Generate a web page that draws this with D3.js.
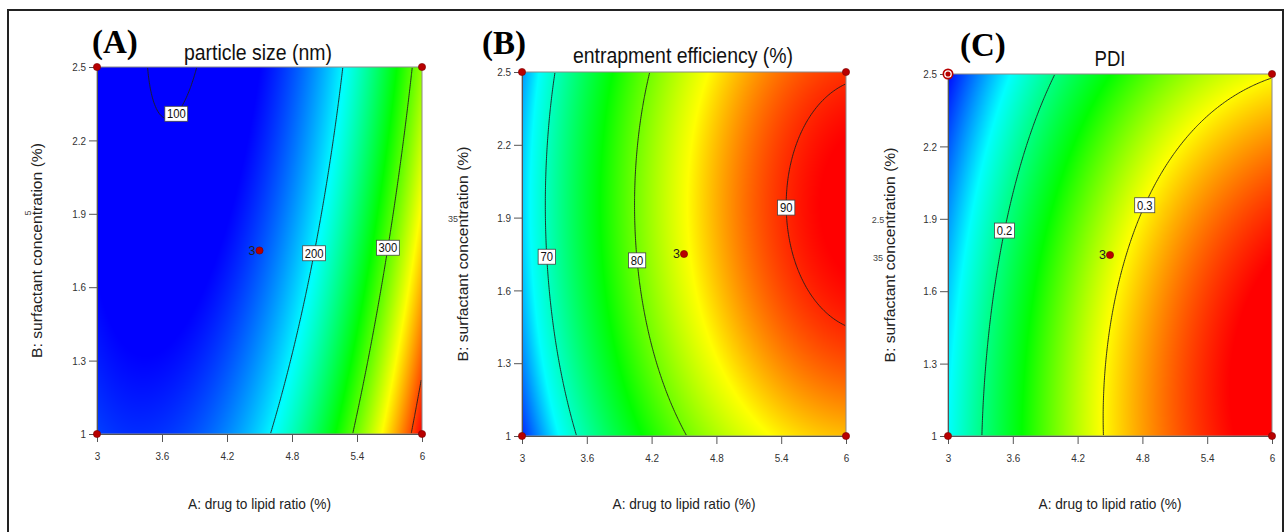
<!DOCTYPE html>
<html lang="en">
<head>
<meta charset="UTF-8">
<title>Contour plots</title>
<script src="https://cdn.jsdelivr.net/npm/d3@7"></script>
<style>
  body { margin: 0; background: #fff; }
  text { font-family: "Liberation Sans", Arial, sans-serif; }
</style>
</head>
<body>
<svg id="chart" width="1284" height="532"></svg>
<script>
// factor ranges and ticks
const drugRatio = [3, 6];
const surfactant = [1, 2.5];
const xTicks = [3, 3.6, 4.2, 4.8, 5.4, 6];
const yTicks = [1, 1.3, 1.6, 1.9, 2.2, 2.5];

// design points (A, B) and replicate counts
const designA = [3, 3, 6, 6, 4.5];
const designB = [1, 2.5, 1, 2.5, 1.75];
const designRuns = [1, 1, 1, 1, 3];

// model terms, coded units u = (A-4.5)/1.5, v = (B-1.75)/0.75
const termNames = ["1", "A", "B", "AB", "A2", "B2", "A3", "AB2"];
const termU = [0, 1, 0, 1, 2, 0, 3, 1];
const termV = [0, 0, 1, 1, 0, 2, 0, 2];
const sizeCoef = [148.97, 118.9, -32.85, -19.4, 92.6, 8.48, 0, 0];
const eeCoef = [84.04, 12.312, 1.485, 0.297, -5.064, -2.75, -0.069, -0.55];
const pdiCoef = [0.2895, 0.1085, -0.03395, -0.0047, -0.034, -0.01915, 0, -0.0082];

// contour levels
const sizeLevels = [100, 200, 300, 400];
const eeLevels = [70, 80, 90];
const pdiLevels = [0.2, 0.3];

// value at blue, cyan, green, yellow, red
const sizeColorStops = [125, 203, 275, 347, 421];
const eeColorStops = [62.5, 68, 76.5, 84.5, 91];
const pdiColorStops = [0.105, 0.165, 0.237, 0.299, 0.365];
const rampColors = ["#0000ff", "#00ffff", "#00ff00", "#ffff00", "#ff0000"];

const panels = [
  {letter: "(A)", title: "particle size (nm)", coef: sizeCoef, levels: sizeLevels, stops: sizeColorStops,
   labels: [[100, 3.70, 2.32], [200, 4.985, 1.744], [300, 5.668, 1.76]],
   x0: 97, x1: 422, y0: 67, y1: 434, letterX: 92, letterY: 53, titleX: 258, titleY: 60, titleLen: 148,
   yTitleX: 42, marked: false,
   strays: [{t: "5", x: 31, y: 213, rot: true}]},
  {letter: "(B)", title: "entrapment efficiency (%)", coef: eeCoef, levels: eeLevels, stops: eeColorStops,
   labels: [[70, 3.231, 1.738], [80, 4.065, 1.721], [90, 5.472, 1.94]],
   x0: 522, x1: 846, y0: 72, y1: 436, letterX: 482, letterY: 54, titleX: 683, titleY: 63, titleLen: 220,
   yTitleX: 468, marked: false,
   strays: [{t: "35", x: 453, y: 222}]},
  {letter: "(C)", title: "PDI", coef: pdiCoef, levels: pdiLevels, stops: pdiColorStops,
   labels: [[0.2, 3.519, 1.854], [0.3, 4.843, 1.949]],
   x0: 948, x1: 1272, y0: 74, y1: 436, letterX: 960, letterY: 56, titleX: 1110, titleY: 66, titleLen: 31,
   yTitleX: 895, marked: true,
   strays: [{t: "2.5", x: 878, y: 223}, {t: "35", x: 878, y: 261}]}
];

const svg = d3.select("#chart");

// outer frame
svg.append("rect").attr("x", 8).attr("y", 10).attr("width", 1275).attr("height", 560)
  .attr("fill", "none").attr("stroke", "#222").attr("stroke-width", 2);

function squeeze(sel, k) {
  sel.each(function() {
    const w = this.getComputedTextLength();
    d3.select(this).attr("textLength", w * k).attr("lengthAdjust", "spacingAndGlyphs");
  });
}

const aMid = (drugRatio[0] + drugRatio[1]) / 2, aHalf = (drugRatio[1] - drugRatio[0]) / 2;
const bMid = (surfactant[0] + surfactant[1]) / 2, bHalf = (surfactant[1] - surfactant[0]) / 2;

function model(coef, a, b) {
  const u = (a - aMid) / aHalf, v = (b - bMid) / bHalf;
  let s = 0;
  for (let k = 0; k < coef.length; k++) s += coef[k] * Math.pow(u, termU[k]) * Math.pow(v, termV[k]);
  return s;
}

panels.forEach(p => {
  const g = svg.append("g");
  const x = d3.scaleLinear().domain(drugRatio).range([p.x0, p.x1]);
  const y = d3.scaleLinear().domain(surfactant).range([p.y1, p.y0]);
  const color = d3.scaleLinear().domain(p.stops).range(rampColors).clamp(true);

  // colour field
  const cw = Math.round(p.x1 - p.x0), ch = Math.round(p.y1 - p.y0);
  const canvas = document.createElement("canvas");
  canvas.width = cw; canvas.height = ch;
  const ctx = canvas.getContext("2d");
  const img = ctx.createImageData(cw, ch);
  for (let j = 0; j < ch; j++) {
    const b = y.invert(p.y0 + j + 0.5);
    for (let i = 0; i < cw; i++) {
      const a = x.invert(p.x0 + i + 0.5);
      const c = d3.rgb(color(model(p.coef, a, b)));
      const o = (j * cw + i) * 4;
      img.data[o] = c.r; img.data[o + 1] = c.g; img.data[o + 2] = c.b; img.data[o + 3] = 255;
    }
  }
  ctx.putImageData(img, 0, 0);
  g.append("image").attr("x", p.x0).attr("y", p.y0).attr("width", cw).attr("height", ch)
    .attr("preserveAspectRatio", "none").attr("href", canvas.toDataURL());

  // contour lines
  const n = 200, m = 200;
  const gA = d3.scaleLinear().domain([0, n]).range(drugRatio);
  const gB = d3.scaleLinear().domain([0, m]).range([surfactant[1], surfactant[0]]);
  const values = new Float64Array(n * m);
  for (let j = 0; j < m; j++)
    for (let i = 0; i < n; i++) values[j * n + i] = model(p.coef, gA(i + 0.5), gB(j + 0.5));
  const onEdge = q => q[0] <= 0.5 || q[0] >= n - 0.5 || q[1] <= 0.5 || q[1] >= m - 0.5;
  const toPx = q => [x(gA(q[0])), y(gB(q[1]))];
  const lines = {};
  d3.contours().size([n, m]).thresholds(p.levels)(values).forEach(mp => {
    const polys = [];
    mp.coordinates.forEach(poly => poly.forEach(ring => {
      let cur = null;
      for (let k = 1; k < ring.length; k++) {
        const a = ring[k - 1], b = ring[k];
        if (onEdge(a) && onEdge(b)) { cur = null; continue; }
        if (!cur) { cur = [toPx(a)]; polys.push(cur); }
        cur.push(toPx(b));
      }
    }));
    lines[mp.value] = polys;
    g.selectAll(null).data(polys).join("path")
      .attr("d", d3.line())
      .attr("fill", "none").attr("stroke", "#1e1e1e").attr("stroke-width", 0.9);
  });

  // plot frame
  g.append("rect").attr("x", p.x0).attr("y", p.y0).attr("width", p.x1 - p.x0).attr("height", p.y1 - p.y0)
    .attr("fill", "none").attr("stroke", "#8a8a8a").attr("stroke-width", 1);

  // axes
  const xa = g.append("g").attr("transform", `translate(0,${p.y1})`)
    .call(d3.axisBottom(x).tickValues(xTicks).tickFormat(d3.format("")).tickSize(8).tickPadding(10));
  const ya = g.append("g").attr("transform", `translate(${p.x0},0)`)
    .call(d3.axisLeft(y).tickValues(yTicks).tickFormat(d3.format("")).tickSize(8).tickPadding(3));
  [xa, ya].forEach(ax => {
    ax.select(".domain").attr("stroke", "#555");
    ax.selectAll(".tick line").attr("stroke", "#555");
    ax.selectAll(".tick text").attr("fill", "#333").style("font-size", "11.5px")
      .style("font-family", '"Liberation Sans", Arial, sans-serif');
    squeeze(ax.selectAll(".tick text"), 0.86);
  });

  // contour labels
  p.labels.forEach(([lev, la, lb]) => {
    const polys = lines[lev] || [];
    const tx = x(la), ty = y(lb);
    let best = [tx, ty], bd = Infinity;
    polys.forEach(pl => pl.forEach(q => {
      const d = (q[0] - tx) ** 2 + (q[1] - ty) ** 2;
      if (d < bd) { bd = d; best = q; }
    }));
    const lg = g.append("g").attr("transform", `translate(${best[0]},${best[1]})`);
    const t = lg.append("text").attr("text-anchor", "middle").attr("y", 4.5)
      .style("font-size", "12.5px").attr("fill", "#111").text(lev);
    squeeze(t, 0.9);
    const w = t.node().getComputedTextLength() * 0.9 + 6;
    lg.insert("rect", "text").attr("x", -w / 2).attr("y", -7.5).attr("width", w).attr("height", 15)
      .attr("fill", "#fff").attr("stroke", "#444").attr("stroke-width", 0.8);
  });

  // design points
  designA.forEach((a, k) => {
    const cx = x(a), cy = y(designB[k]);
    g.append("circle").attr("cx", cx).attr("cy", cy).attr("r", 3.6)
      .attr("fill", "#b80000").attr("stroke", "#7a0000").attr("stroke-width", 0.6);
    if (designRuns[k] > 1) {
      g.append("text").attr("x", cx - 4).attr("y", cy + 4).attr("text-anchor", "end")
        .style("font-size", "12.5px").attr("fill", "#222").text(designRuns[k]);
    }
  });
  if (p.marked) {
    const cx = x(drugRatio[0]), cy = y(surfactant[1]);
    g.append("circle").attr("cx", cx).attr("cy", cy).attr("r", 5.5).attr("fill", "#b80000");
    g.append("circle").attr("cx", cx).attr("cy", cy).attr("r", 3.2).attr("fill", "none")
      .attr("stroke", "#fff").attr("stroke-width", 1.3);
  }

  // titles
  g.append("text").attr("x", p.letterX).attr("y", p.letterY)
    .style("font-family", '"Liberation Serif", "Times New Roman", serif')
    .style("font-weight", "bold").style("font-size", "33px").attr("fill", "#000").text(p.letter);
  g.append("text").attr("x", p.titleX).attr("y", p.titleY).attr("text-anchor", "middle")
    .style("font-size", "22px").attr("fill", "#111").attr("textLength", p.titleLen)
    .attr("lengthAdjust", "spacingAndGlyphs").text(p.title);
  g.append("text").attr("x", (p.x0 + p.x1) / 2).attr("y", 509).attr("text-anchor", "middle")
    .style("font-size", "15px").attr("fill", "#222").attr("textLength", 143)
    .attr("lengthAdjust", "spacingAndGlyphs").text("A: drug to lipid ratio (%)");
  g.append("text").attr("transform", `translate(${p.yTitleX},${(p.y0 + p.y1) / 2}) rotate(-90)`)
    .attr("text-anchor", "middle").style("font-size", "15px").attr("fill", "#222")
    .attr("textLength", 215).attr("lengthAdjust", "spacingAndGlyphs")
    .text("B: surfactant concentration (%)");

  p.strays.forEach(s => {
    g.append("text").attr("transform", `translate(${s.x},${s.y})` + (s.rot ? " rotate(-90)" : ""))
      .attr("text-anchor", "middle").style("font-size", "9px").attr("fill", "#444").text(s.t);
  });
});
</script>
</body>
</html>
